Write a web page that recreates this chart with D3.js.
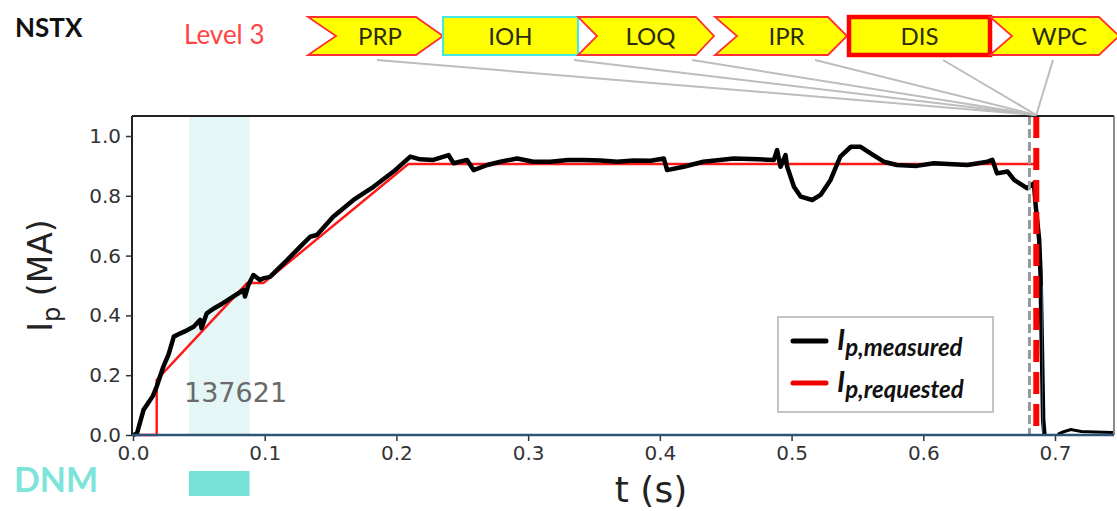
<!DOCTYPE html>
<html>
<head>
<meta charset="utf-8">
<script src="https://cdn.jsdelivr.net/npm/d3@7"></script>
<style>
  body { margin: 0; background: #fff; }
  svg { display: block; }
</style>
</head>
<body>
<svg id="chart"></svg>
<script>
// ---- data ----
const stageNames = ['PRP', 'IOH', 'LOQ', 'IPR', 'DIS', 'WPC'];
const stageShape = ['chevron', 'rect', 'chevron', 'chevron', 'rect', 'chevron'];

// I_p measured (t in s, MA)
const measured = [
  [0.000, 0.000], [0.003, 0.005], [0.008, 0.084], [0.012, 0.110], [0.015, 0.130],
  [0.018, 0.162], [0.023, 0.228], [0.027, 0.270], [0.031, 0.329], [0.036, 0.340],
  [0.041, 0.350], [0.046, 0.362], [0.051, 0.385], [0.052, 0.357], [0.056, 0.407],
  [0.062, 0.425], [0.068, 0.440], [0.076, 0.463], [0.084, 0.485], [0.085, 0.463],
  [0.0876, 0.502], [0.0914, 0.535], [0.0965, 0.518], [0.099, 0.524], [0.104, 0.529],
  [0.110, 0.555], [0.117, 0.585], [0.127, 0.630], [0.1345, 0.663], [0.1396, 0.669],
  [0.152, 0.730], [0.1674, 0.786], [0.1826, 0.830], [0.1978, 0.881], [0.2105, 0.931],
  [0.218, 0.922], [0.228, 0.920], [0.2396, 0.936], [0.2434, 0.909], [0.2536, 0.920],
  [0.2586, 0.886], [0.269, 0.903], [0.279, 0.914], [0.2916, 0.925], [0.304, 0.914],
  [0.317, 0.914], [0.330, 0.920], [0.342, 0.920], [0.355, 0.918], [0.3676, 0.914],
  [0.380, 0.918], [0.393, 0.917], [0.403, 0.925], [0.4055, 0.886], [0.418, 0.897],
  [0.433, 0.914], [0.456, 0.925], [0.475, 0.922], [0.4866, 0.920], [0.489, 0.953],
  [0.4916, 0.897], [0.4954, 0.936], [0.4967, 0.897], [0.5018, 0.830], [0.507, 0.797],
  [0.5157, 0.786], [0.522, 0.803], [0.5296, 0.853], [0.537, 0.931], [0.545, 0.964],
  [0.5524, 0.964], [0.560, 0.942], [0.570, 0.914], [0.580, 0.903], [0.595, 0.900],
  [0.608, 0.909], [0.6335, 0.903], [0.6487, 0.914], [0.6525, 0.920], [0.656, 0.875],
  [0.664, 0.881], [0.669, 0.853], [0.679, 0.825], [0.684, 0.842], [0.6854, 0.764],
  [0.688, 0.652], [0.689, 0.541], [0.690, 0.300], [0.691, 0.050], [0.692, 0.000]
];
const measuredTail = [
  [0.702, 0.002], [0.706, 0.010], [0.712, 0.018], [0.720, 0.012], [0.730, 0.010], [0.744, 0.008]
];

// I_p requested
const requested = [
  [0.000, 0.000], [0.018, 0.000], [0.018, 0.184], [0.0866, 0.508],
  [0.099, 0.508], [0.209, 0.906], [0.686, 0.906]
];

const xTicks = [0.0, 0.1, 0.2, 0.3, 0.4, 0.5, 0.6, 0.7];
const yTicks = [0.0, 0.2, 0.4, 0.6, 0.8, 1.0];
const dnmWindow = [0.0425, 0.0885];
const tDisruptPred = 0.6806;   // grey dashed
const tDisrupt = 0.6858;       // red dashed
const shotNumber = '137621';

// ---- layout ----
const width = 1117, height = 511;
const plot = { left: 132, right: 1114, top: 116, bottom: 435 };

const svg = d3.select('#chart').attr('width', width).attr('height', height);

const x = d3.scaleLinear().domain([0, 0.7]).range([133, 1055]);
const y = d3.scaleLinear().domain([0, 1.0]).range([435, 136]);

// DNM shaded band
svg.append('rect')
  .attr('x', x(dnmWindow[0])).attr('y', plot.top)
  .attr('width', x(dnmWindow[1]) - x(dnmWindow[0]))
  .attr('height', plot.bottom - plot.top)
  .attr('fill', '#e5f6f6');

// DNM marker below axis
svg.append('rect')
  .attr('x', x(dnmWindow[0])).attr('y', 471)
  .attr('width', x(dnmWindow[1]) - x(dnmWindow[0])).attr('height', 25)
  .attr('fill', '#77e2d8');
svg.append('text')
  .attr('x', 14).attr('y', 492)
  .attr('font-family', 'Lato, sans-serif').attr('font-weight', 'bold')
  .attr('font-size', 34).attr('fill', '#7de4da')
  .text('DNM');

// shot number
svg.append('text')
  .attr('x', 184).attr('y', 402)
  .attr('font-family', 'DejaVu Sans, sans-serif')
  .attr('font-size', 27).attr('fill', '#6a6a6a')
  .text(shotNumber);

// lines
const line = d3.line().x(d => x(d[0])).y(d => y(d[1]));

svg.append('path').datum(requested)
  .attr('d', line).attr('fill', 'none')
  .attr('stroke', '#ff1a1a').attr('stroke-width', 2.5);

svg.append('path').datum(measured)
  .attr('d', line).attr('fill', 'none')
  .attr('stroke', '#000').attr('stroke-width', 4.5)
  .attr('stroke-linejoin', 'round');
svg.append('path').datum(measuredTail)
  .attr('d', line).attr('fill', 'none')
  .attr('stroke', '#000').attr('stroke-width', 3);

// vertical dashed lines
svg.append('line')
  .attr('x1', x(tDisruptPred)).attr('x2', x(tDisruptPred))
  .attr('y1', plot.top).attr('y2', plot.bottom)
  .attr('stroke', '#999').attr('stroke-width', 3)
  .attr('stroke-dasharray', '9,4');
svg.append('line')
  .attr('x1', x(tDisrupt)).attr('x2', x(tDisrupt))
  .attr('y1', plot.top).attr('y2', plot.bottom)
  .attr('stroke', '#ff0000').attr('stroke-width', 6)
  .attr('stroke-dasharray', '22,10');
// thin blue trace along the drop
svg.append('line')
  .attr('x1', x(0.6905)).attr('x2', x(0.6905))
  .attr('y1', y(0.5)).attr('y2', plot.bottom)
  .attr('stroke', '#2d4f7a').attr('stroke-width', 1);

// frame
svg.append('line').attr('x1', plot.left).attr('x2', plot.right)
  .attr('y1', plot.top).attr('y2', plot.top)
  .attr('stroke', '#222').attr('stroke-width', 2);
svg.append('line').attr('x1', plot.left).attr('x2', plot.left)
  .attr('y1', plot.top).attr('y2', plot.bottom)
  .attr('stroke', '#222').attr('stroke-width', 2);
svg.append('line').attr('x1', plot.right).attr('x2', plot.right)
  .attr('y1', plot.top).attr('y2', plot.bottom)
  .attr('stroke', '#666').attr('stroke-width', 1.5);

// axes
const xAxis = svg.append('g')
  .attr('transform', `translate(0,${plot.bottom})`)
  .call(d3.axisBottom(x).tickValues(xTicks).tickFormat(d3.format('.1f')).tickSize(6).tickPadding(5));
const yAxis = svg.append('g')
  .attr('transform', `translate(${plot.left},0)`)
  .call(d3.axisLeft(y).tickValues(yTicks).tickFormat(d3.format('.1f')).tickSize(6).tickPadding(5));

[xAxis, yAxis].forEach(g => {
  g.select('.domain').remove();
  g.selectAll('line').attr('stroke', '#333').attr('stroke-width', 1.5);
  g.selectAll('text')
    .attr('font-family', 'DejaVu Sans, sans-serif')
    .attr('font-size', 20).attr('fill', '#333');
});

// bottom zero line (blue)
svg.append('line').attr('x1', plot.left).attr('x2', plot.right)
  .attr('y1', plot.bottom).attr('y2', plot.bottom)
  .attr('stroke', '#2f5479').attr('stroke-width', 2.5);

// axis labels
const ylab = svg.append('text')
  .attr('transform', `translate(52,${(plot.top + plot.bottom) / 2}) rotate(-90)`)
  .attr('text-anchor', 'middle')
  .attr('font-family', 'DejaVu Sans, sans-serif')
  .attr('font-size', 33).attr('fill', '#222');
ylab.append('tspan').text('I');
ylab.append('tspan').attr('font-size', 24).attr('dy', 8).text('p');
ylab.append('tspan').attr('dy', -8).text(' (MA)');

svg.append('text')
  .attr('x', 651).attr('y', 502)
  .attr('text-anchor', 'middle')
  .attr('font-family', 'DejaVu Sans, sans-serif')
  .attr('font-size', 36).attr('fill', '#222')
  .text('t (s)');

// legend
const legend = svg.append('g');
legend.append('rect')
  .attr('x', 778).attr('y', 317).attr('width', 215).attr('height', 95)
  .attr('fill', '#fff').attr('stroke', '#c4c4c4').attr('stroke-width', 2);
const legendItems = [
  { label: 'p,measured', color: '#000', y: 341 },
  { label: 'p,requested', color: '#ee0000', y: 383 }
];
legendItems.forEach(d => {
  legend.append('line')
    .attr('x1', 793).attr('x2', 826).attr('y1', d.y).attr('y2', d.y)
    .attr('stroke', d.color).attr('stroke-width', 5).attr('stroke-linecap', 'round');
  const t = legend.append('text')
    .attr('x', 837).attr('y', d.y + 9)
    .attr('font-family', 'Lato, sans-serif').attr('font-weight', 'bold')
    .attr('font-style', 'italic').attr('fill', '#111')
    .attr('font-size', 29);
  t.append('tspan').text('I');
  t.append('tspan').attr('font-size', 24).attr('dy', 6).text(d.label);
});

// ---- top banner ----
svg.append('text')
  .attr('x', 15).attr('y', 37)
  .attr('font-family', 'Lato, sans-serif').attr('font-weight', 'bold')
  .attr('font-size', 26).attr('fill', '#111')
  .text('NSTX');
svg.append('text')
  .attr('x', 184).attr('y', 44)
  .attr('font-family', 'Lato, sans-serif')
  .attr('font-size', 26).attr('fill', '#ff4444')
  .text('Level 3');

const boxTop = 17, boxBot = 55, boxMid = (boxTop + boxBot) / 2;
const stageBoxes = [
  { l: 308, n: 336, r: 416, tip: 443 },
  { l: 443, r: 578 },
  { l: 578, n: 597, r: 696, tip: 714 },
  { l: 715, n: 737, r: 828, tip: 847 },
  { l: 849, r: 990 },
  { l: 990, n: 1012, r: 1099, tip: 1119 }
];
const linkStart = [377, 574, 692, 815, 943, 1053];
const converge = [x(tDisrupt), plot.top - 1];

// connector lines
stageNames.forEach((s, i) => {
  svg.append('line')
    .attr('x1', linkStart[i]).attr('y1', 60)
    .attr('x2', converge[0]).attr('y2', converge[1])
    .attr('stroke', '#bdbdbd').attr('stroke-width', 2);
});

stageNames.forEach((s, i) => {
  const b = stageBoxes[i];
  if (stageShape[i] === 'chevron') {
    const pts = [[b.l, boxTop], [b.r, boxTop], [b.tip, boxMid], [b.r, boxBot], [b.l, boxBot], [b.n, boxMid]];
    svg.append('polygon')
      .attr('points', pts.map(p => p.join(',')).join(' '))
      .attr('fill', '#ffff00').attr('stroke', '#ff3030').attr('stroke-width', 1.8);
  } else {
    const thick = s === 'DIS';
    svg.append('rect')
      .attr('x', b.l).attr('y', boxTop)
      .attr('width', b.r - b.l).attr('height', boxBot - boxTop)
      .attr('fill', '#ffff00')
      .attr('stroke', thick ? '#ff0000' : '#44e6e6')
      .attr('stroke-width', thick ? 4.5 : 2);
  }
  const cx = stageShape[i] === 'chevron' ? (b.n + b.r) / 2 + 4 : (b.l + b.r) / 2;
  svg.append('text')
    .attr('x', cx).attr('y', boxMid + 9)
    .attr('text-anchor', 'middle')
    .attr('font-family', 'Lato, sans-serif')
    .attr('font-size', 24).attr('fill', '#2b2b10')
    .text(s);
});
</script>
</body>
</html>
